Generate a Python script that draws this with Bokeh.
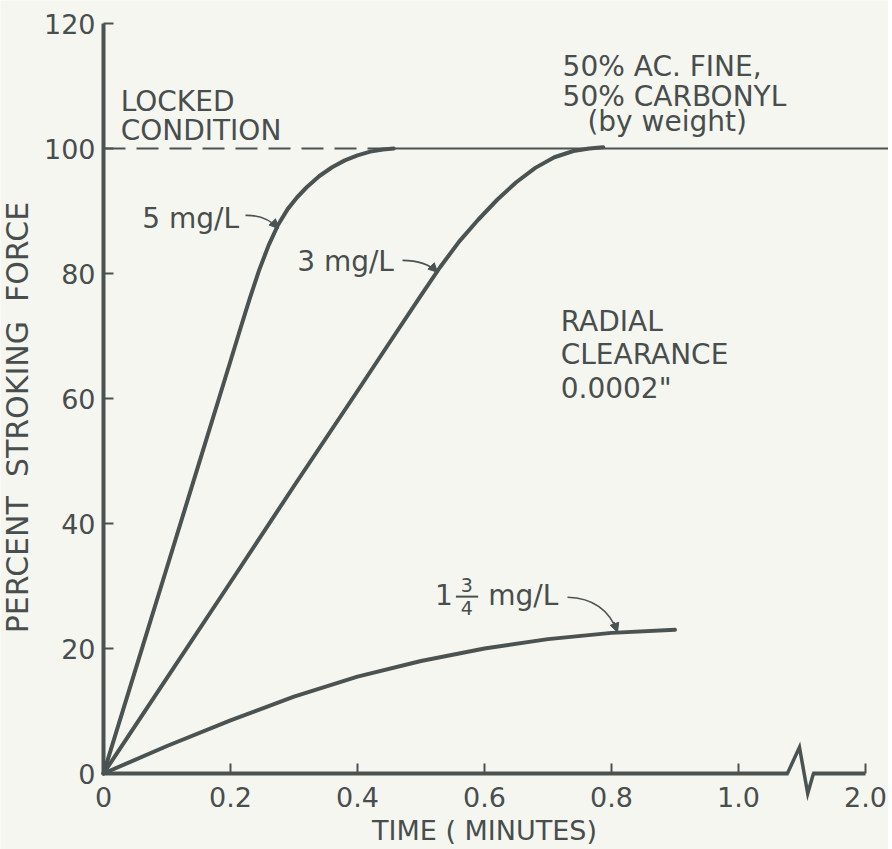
from bokeh.plotting import figure
from bokeh.models import Range1d, FixedTicker, Arrow, NormalHead
from bokeh.core.properties import value
from bokeh.embed import file_html
from bokeh.resources import INLINE

# ---------------- data ----------------
time_5mg = [0, 0.05, 0.10, 0.15, 0.20, 0.215, 0.23, 0.245, 0.26, 0.275, 0.29, 0.305, 0.32,
            0.34, 0.36, 0.38, 0.40, 0.42, 0.44, 0.457]
force_5mg = [0, 16.5, 33, 49.5, 66, 71, 75.9, 80.5, 84.5, 87.8, 90.3, 92.2, 93.8,
             95.6, 97, 98.1, 98.9, 99.5, 99.85, 100]

time_3mg = [0, 0.1, 0.2, 0.3, 0.4, 0.46, 0.50, 0.53, 0.56, 0.59, 0.62, 0.65, 0.68, 0.71,
            0.74, 0.765, 0.787]
force_3mg = [0, 15.3, 30.6, 46, 61.2, 70.4, 76.5, 81, 85.1, 88.6, 91.8, 94.6, 96.9, 98.6,
             99.6, 100.0, 100.2]

time_175mg = [0, 0.1, 0.2, 0.3, 0.4, 0.5, 0.6, 0.7, 0.8, 0.9]
force_175mg = [0, 4.4, 8.5, 12.3, 15.5, 18.0, 20.0, 21.5, 22.5, 23.0]

locked_level = 100
x_ticks = [0, 0.2, 0.4, 0.6, 0.8, 1.0, 1.2]
x_tick_labels = ["0", "0.2", "0.4", "0.6", "0.8", "1.0", "2.0"]
y_ticks = [0, 20, 40, 60, 80, 100, 120]

# axis break (zig-zag) on the time axis, in data units
break_x = [1.077, 1.096, 1.109, 1.118]
break_y = [0, 4.2, -3.2, 0]

# ---------------- style ----------------
BG = "#f6f6f1"
INK = "#4a5352"
TXT = "#474e4d"
FONT = "DejaVu Sans"
NB = "\u00a0"

# the frame fills the whole canvas; both axes sit at the data origin
p = figure(frame_width=888, frame_height=849,
           x_range=Range1d(-0.1622, 1.2362), y_range=Range1d(-12.16, 123.68),
           min_border_left=0, min_border_right=0, min_border_top=0, min_border_bottom=0,
           output_backend="svg", toolbar_location=None,
           background_fill_color=BG, border_fill_color=BG)
p.outline_line_color = None
p.grid.visible = False

for ax in (p.xaxis[0], p.yaxis[0]):
    ax.fixed_location = 0
    ax.axis_line_width = 4
    ax.axis_line_color = INK
    ax.major_tick_in = 10
    ax.major_tick_out = 0
    ax.major_tick_line_width = 2
    ax.major_tick_line_color = INK
    ax.minor_tick_line_color = None
    ax.major_label_text_font = FONT
    ax.major_label_text_font_size = "27px"
    ax.major_label_text_color = TXT
    ax.axis_label_text_font = FONT
    ax.axis_label_text_font_size = "27px"
    ax.axis_label_text_font_style = "normal"
    ax.axis_label_text_color = TXT

p.xaxis.ticker = FixedTicker(ticks=x_ticks)
p.xaxis.major_label_overrides = dict(zip(x_ticks, x_tick_labels))
p.xaxis.bounds = (0, 1.2)
p.xaxis.major_label_standoff = 13
p.xaxis.axis_label_standoff = 5
p.xaxis.axis_label = "TIME ( MINUTES)"

p.yaxis.ticker = FixedTicker(ticks=y_ticks)
p.yaxis.bounds = (0, 120)
p.yaxis.major_label_standoff = 8
p.yaxis.axis_label_standoff = 6
p.yaxis.axis_label_text_font_size = "30px"
p.yaxis.axis_label = ("PERCENT" + NB * 2 + "STROKING" + NB * 2 + "FORCE" + NB * 4)

# locked condition line
p.line([0, time_5mg[-1]], [locked_level, locked_level], line_color=INK, line_width=2.2, line_dash="22 11")
p.line([time_5mg[-1], 1.25], [locked_level, locked_level], line_color=INK, line_width=2)

# curves
for t, f in ((time_5mg, force_5mg), (time_3mg, force_3mg), (time_175mg, force_175mg)):
    p.line(t, f, line_color=INK, line_width=4, line_join="round", line_cap="round")

# axis break: hide the rule under the break and draw the zig-zag (above the axis)
p.line([break_x[0] + 0.002, break_x[-1] - 0.002], [0, 0], line_color=BG, line_width=9, level="overlay")
p.line(break_x, break_y, line_color=INK, line_width=3.5, line_join="miter", level="overlay")

# annotation texts (y = vertical centre of the lettering)
txt_kw = dict(text_font=value(FONT), text_font_size="28px", text_color=TXT,
              text_align="left", text_baseline="middle")
p.text(x=[0.027, 0.027], y=[107.5, 102.9], text=["LOCKED", "CONDITION"], **txt_kw)
p.text(x=[0.723, 0.723, 0.762], y=[113.1, 108.3, 104.3],
       text=["50% AC. FINE,", "50% CARBONYL", "(by weight)"], **txt_kw)
p.text(x=[0.72, 0.72, 0.72], y=[72.3, 67.0, 61.6], text=["RADIAL", "CLEARANCE", '0.0002"'], **txt_kw)
p.text(x=[0.061], y=[88.8], text=["5 mg/L"], **txt_kw)
p.text(x=[0.305], y=[82.0], text=["3 mg/L"], **txt_kw)
p.text(x=[0.522, 0.606], y=[28.6, 28.5], text=["1", "mg/L"], **txt_kw)
frac_kw = dict(txt_kw, text_font_size="19px", text_align="center")
p.text(x=[0.572, 0.572], y=[30.1, 26.5], text=["3", "4"], **frac_kw)
p.line([0.555, 0.590], [28.3, 28.3], line_color=TXT, line_width=2)

# leader arrows: (start, control, end)
leaders = [
    ((0.2236, 89.3), (0.2551, 89.4), (0.2756, 87.2)),
    ((0.4709, 82.1), (0.5071, 82.1), (0.526, 80.2)),
    ((0.7307, 28.2), (0.7906, 28.0), (0.8094, 22.6)),
]
for (sx, sy), (cx, cy), (ex, ey) in leaders:
    p.quadratic(x0=[sx], y0=[sy], x1=[ex], y1=[ey], cx=[cx], cy=[cy], line_color=INK, line_width=1.6)
    p.add_layout(Arrow(x_start=ex - 0.3 * (ex - cx), y_start=ey - 0.3 * (ey - cy), x_end=ex, y_end=ey,
                       line_color=INK, line_width=1.6,
                       end=NormalHead(size=9, fill_color=INK, line_color=INK, line_width=1)))

open("out.html", "w").write(file_html(p, INLINE))
